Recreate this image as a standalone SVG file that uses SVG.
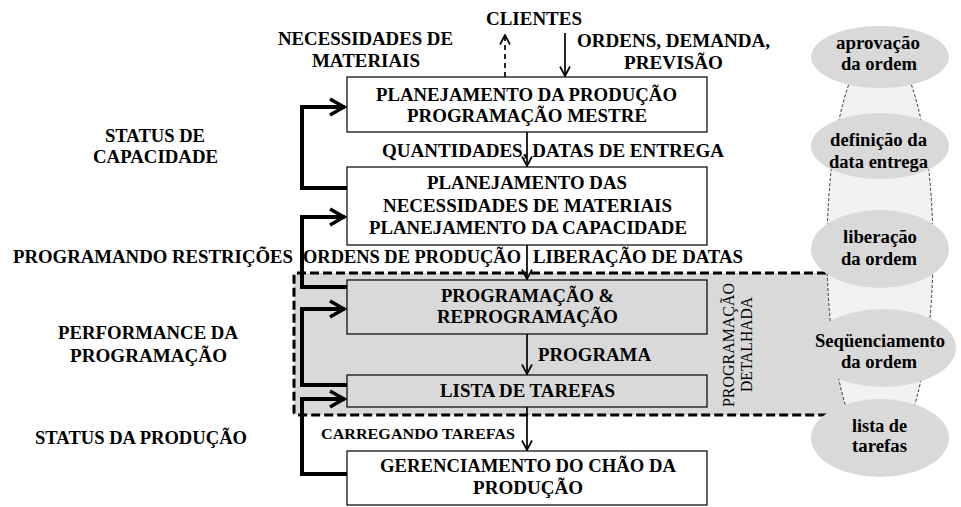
<svg xmlns="http://www.w3.org/2000/svg" width="961" height="507" viewBox="0 0 961 507">
<defs>
<style>
text{font-family:"Liberation Serif","Times New Roman",serif;font-weight:bold;font-size:19px;fill:#000}
.sm{font-size:15.5px}
.rt{font-weight:normal;font-size:16px}
.el{font-size:18.5px}
.box{fill:#fff;stroke:#000;stroke-width:1.2}
.gbox{fill:#d9d9d9;stroke:#000;stroke-width:1.2}
.oval{fill:#d9d9d9;stroke:none}
.thin{fill:none;stroke:#000;stroke-width:1.7}
.thick{fill:none;stroke:#000;stroke-width:4;stroke-linejoin:miter}
</style>
<marker id="ah" viewBox="0 0 12 12" refX="11" refY="6" markerWidth="12" markerHeight="12" orient="auto" markerUnits="userSpaceOnUse">
<path d="M1.5,1 L11,6 L1.5,11" fill="none" stroke="#000" stroke-width="1.7"/>
</marker>
<marker id="ahT" viewBox="0 0 20 20" refX="18" refY="10" markerWidth="20" markerHeight="20" orient="auto" markerUnits="userSpaceOnUse">
<path d="M3,2 L17,10 L3,18" fill="none" stroke="#000" stroke-width="3.6"/>
</marker>
</defs>
<rect width="961" height="507" fill="#fff"/>

<g id="detailed-scheduling">
<rect x="294" y="273" width="556" height="142" rx="3" fill="#d9d9d9" stroke="#000" stroke-width="3" stroke-dasharray="9 4"/>
<text class="rt" transform="translate(734,345) rotate(-90)" text-anchor="middle" textLength="124" lengthAdjust="spacingAndGlyphs">PROGRAMAÇÃO</text>
<text class="rt" transform="translate(752,344.5) rotate(-90)" text-anchor="middle" textLength="95" lengthAdjust="spacingAndGlyphs">DETALHADA</text>
</g>

<g id="activity-band">
<ellipse cx="880" cy="250" rx="53" ry="205" fill="#f2f2f2" stroke="#333" stroke-width="1" stroke-dasharray="3 2"/>
</g>

<g id="box-mps">
<rect class="box" x="347" y="77" width="360" height="55"/>
<text x="376" y="101" textLength="301" lengthAdjust="spacingAndGlyphs">PLANEJAMENTO DA PRODUÇÃO</text>
<text x="407" y="122" textLength="240" lengthAdjust="spacingAndGlyphs">PROGRAMAÇÃO MESTRE</text>
</g>

<g id="box-mrp">
<rect class="box" x="347" y="167" width="360" height="78"/>
<text x="427" y="189" textLength="200" lengthAdjust="spacingAndGlyphs">PLANEJAMENTO DAS</text>
<text x="383" y="212" textLength="289" lengthAdjust="spacingAndGlyphs">NECESSIDADES DE MATERIAIS</text>
<text x="369" y="234" textLength="318" lengthAdjust="spacingAndGlyphs">PLANEJAMENTO DA CAPACIDADE</text>
</g>

<g id="box-scheduling">
<rect class="gbox" x="347" y="280" width="360" height="54"/>
<text x="441" y="302" textLength="173" lengthAdjust="spacingAndGlyphs">PROGRAMAÇÃO &amp;</text>
<text x="437" y="323" textLength="181" lengthAdjust="spacingAndGlyphs">REPROGRAMAÇÃO</text>
</g>

<g id="box-tasklist">
<rect class="gbox" x="347" y="375" width="360" height="32"/>
<text x="440" y="397" textLength="175" lengthAdjust="spacingAndGlyphs">LISTA DE TAREFAS</text>
</g>

<g id="box-shopfloor">
<rect class="box" x="347" y="451" width="360" height="54"/>
<text x="380" y="472" textLength="296" lengthAdjust="spacingAndGlyphs">GERENCIAMENTO DO CHÃO DA</text>
<text x="473" y="494" textLength="110" lengthAdjust="spacingAndGlyphs">PRODUÇÃO</text>
</g>

<g id="clientes">
<text x="486" y="25" textLength="96" lengthAdjust="spacingAndGlyphs">CLIENTES</text>
</g>

<g id="ov-aprovacao">
<ellipse class="oval" cx="880" cy="57" rx="69" ry="31"/>
<text class="el" x="836" y="49" textLength="84" lengthAdjust="spacingAndGlyphs">aprovação</text>
<text class="el" x="841" y="70" textLength="76" lengthAdjust="spacingAndGlyphs">da ordem</text>
</g>
<g id="ov-definicao">
<ellipse class="oval" cx="880" cy="146" rx="69" ry="33"/>
<text class="el" x="830" y="146" textLength="97" lengthAdjust="spacingAndGlyphs">definição da</text>
<text class="el" x="829" y="168" textLength="99" lengthAdjust="spacingAndGlyphs">data entrega</text>
</g>
<g id="ov-liberacao">
<ellipse class="oval" cx="880" cy="249" rx="69" ry="39"/>
<text class="el" x="843" y="243" textLength="74" lengthAdjust="spacingAndGlyphs">liberação</text>
<text class="el" x="841" y="265" textLength="76" lengthAdjust="spacingAndGlyphs">da ordem</text>
</g>
<g id="ov-sequenciamento">
<ellipse class="oval" cx="883" cy="348" rx="73" ry="39"/>
<text class="el" x="815" y="347" textLength="130" lengthAdjust="spacingAndGlyphs">Seqüenciamento</text>
<text class="el" x="841" y="368" textLength="76" lengthAdjust="spacingAndGlyphs">da ordem</text>
</g>
<g id="ov-lista">
<ellipse class="oval" cx="880" cy="438" rx="69" ry="39"/>
<text class="el" x="852" y="432" textLength="55" lengthAdjust="spacingAndGlyphs">lista de</text>
<text class="el" x="852" y="452" textLength="55" lengthAdjust="spacingAndGlyphs">tarefas</text>
</g>

<g id="connectors">
<line class="thin" x1="565" y1="33" x2="565" y2="76" marker-end="url(#ah)"/>
<line class="thin" x1="505" y1="77" x2="505" y2="35" stroke-dasharray="5 4" marker-end="url(#ah)"/>
<line class="thin" x1="527" y1="132" x2="527" y2="166" marker-end="url(#ah)"/>
<line class="thin" x1="527" y1="245" x2="527" y2="279" marker-end="url(#ah)"/>
<line class="thin" x1="527" y1="334" x2="527" y2="374" marker-end="url(#ah)"/>
<line class="thin" x1="527" y1="407" x2="527" y2="450" marker-end="url(#ah)"/>
<path class="thick" d="M347,188 H302 V107 H345" marker-end="url(#ahT)"/>
<path class="thick" d="M347,287 H302 V217 H345" marker-end="url(#ahT)"/>
<path class="thick" d="M347,385 H302 V309 H345" marker-end="url(#ahT)"/>
<path class="thick" d="M347,474 H302 V399 H345" marker-end="url(#ahT)"/>
</g>

<g id="labels">
<text x="278" y="45" textLength="175" lengthAdjust="spacingAndGlyphs">NECESSIDADES DE</text>
<text x="312" y="67" textLength="108" lengthAdjust="spacingAndGlyphs">MATERIAIS</text>
<text x="577" y="47" textLength="193" lengthAdjust="spacingAndGlyphs">ORDENS, DEMANDA,</text>
<text x="624" y="69" textLength="99" lengthAdjust="spacingAndGlyphs">PREVISÃO</text>
<text x="382" y="157" textLength="342" lengthAdjust="spacingAndGlyphs">QUANTIDADES, DATAS DE ENTREGA</text>
<text x="105" y="142" textLength="100" lengthAdjust="spacingAndGlyphs">STATUS DE</text>
<text x="93" y="163" textLength="125" lengthAdjust="spacingAndGlyphs">CAPACIDADE</text>
<text x="13" y="263" textLength="280" lengthAdjust="spacingAndGlyphs">PROGRAMANDO RESTRIÇÕES</text>
<text x="303" y="263" textLength="218" lengthAdjust="spacingAndGlyphs">ORDENS DE PRODUÇÃO</text>
<text x="533" y="263" textLength="210" lengthAdjust="spacingAndGlyphs">LIBERAÇÃO DE DATAS</text>
<text x="58" y="339" textLength="180" lengthAdjust="spacingAndGlyphs">PERFORMANCE DA</text>
<text x="70" y="362" textLength="157" lengthAdjust="spacingAndGlyphs">PROGRAMAÇÃO</text>
<text x="538" y="361" textLength="113" lengthAdjust="spacingAndGlyphs">PROGRAMA</text>
<text class="sm" x="321" y="439" textLength="194" lengthAdjust="spacingAndGlyphs">CARREGANDO TAREFAS</text>
<text x="35" y="444" textLength="212" lengthAdjust="spacingAndGlyphs">STATUS DA PRODUÇÃO</text>
</g>
</svg>
